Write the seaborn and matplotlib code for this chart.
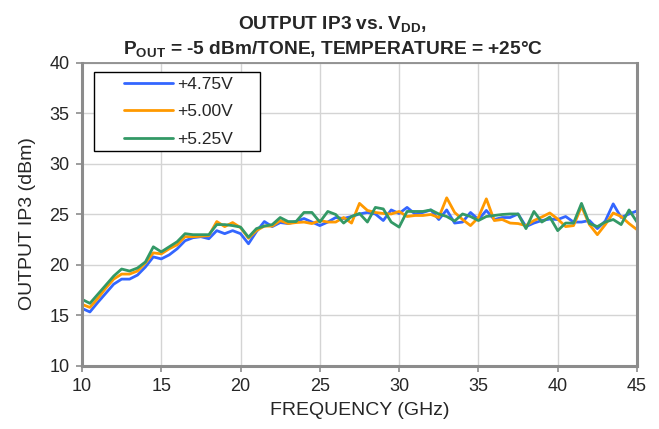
import pandas as pd
import matplotlib
matplotlib.use("Agg")
import matplotlib.pyplot as plt
from matplotlib.patches import Rectangle
import seaborn as sns

# frequency points (GHz)
freq = [10.0, 10.5, 11.0, 11.5, 12.0, 12.5, 13.0, 13.5, 14.0, 14.5,
        15.0, 15.5, 16.0, 16.5, 17.0, 17.5, 18.0, 18.5, 19.0, 19.5,
        20.0, 20.5, 21.0, 21.5, 22.0, 22.5, 23.0, 23.5, 24.0, 24.5,
        25.0, 25.5, 26.0, 26.5, 27.0, 27.5, 28.0, 28.5, 29.0, 29.5,
        30.0, 30.5, 31.0, 31.5, 32.0, 32.5, 33.0, 33.5, 34.0, 34.5,
        35.0, 35.5, 36.0, 36.5, 37.0, 37.5, 38.0, 38.5, 39.0, 39.5,
        40.0, 40.5, 41.0, 41.5, 42.0, 42.5, 43.0, 43.5, 44.0, 44.5,
        45.0]

ip3_475 = [15.7, 15.35, 16.3, 17.2, 18.1, 18.6, 18.6, 19.0, 19.8, 20.8,
           20.6, 21.0, 21.6, 22.4, 22.7, 22.8, 22.6, 23.4, 23.1, 23.4,
           23.1, 22.1, 23.3, 24.3, 23.8, 24.2, 24.1, 24.3, 24.6, 24.25,
           23.9, 24.25, 24.7, 24.6, 24.8, 25.05, 25.2, 25.05, 24.4, 25.45,
           25.1, 25.7, 25.05, 25.2, 25.45, 24.5, 25.45, 24.15, 24.25, 25.2,
           24.5, 25.4, 24.5, 24.7, 24.7, 25.05, 23.8, 24.15, 24.4, 24.55,
           24.5, 24.8, 24.25, 24.25, 24.4, 23.6, 24.35, 26.05, 24.7, 25.05,
           25.35]

ip3_500 = [16.1, 15.8, 16.7, 17.7, 18.6, 19.1, 19.1, 19.4, 20.2, 21.2,
           21.1, 21.6, 22.0, 22.8, 22.8, 22.85, 22.9, 24.3, 23.8, 24.2,
           23.7, 22.65, 23.4, 23.85, 23.85, 24.4, 24.1, 24.2, 24.25, 24.1,
           24.4, 24.25, 24.25, 24.7, 24.15, 26.1, 25.4, 25.2, 25.1, 25.05,
           25.3, 24.8, 24.9, 24.9, 25.0, 24.7, 26.65, 25.2, 24.5, 23.9,
           24.7, 26.55, 24.4, 24.5, 24.15, 24.1, 23.9, 24.4, 24.75, 25.15,
           24.55, 23.8, 23.9, 25.8, 24.0, 23.0, 24.0, 25.15, 24.8, 24.1,
           23.5]

ip3_525 = [16.6, 16.2, 17.1, 18.0, 18.9, 19.6, 19.4, 19.7, 20.3, 21.8,
           21.3, 21.8, 22.3, 23.1, 23.0, 23.0, 23.0, 24.0, 24.0, 23.9,
           23.75, 22.75, 23.6, 23.85, 24.0, 24.7, 24.3, 24.3, 25.2, 25.2,
           24.25, 25.3, 25.0, 24.15, 24.8, 25.1, 24.25, 25.7, 25.55, 24.25,
           23.75, 25.3, 25.3, 25.3, 25.45, 25.05, 24.8, 24.35, 25.05, 24.8,
           24.4, 24.8, 24.9, 25.0, 25.05, 25.05, 23.6, 25.3, 24.25, 24.75,
           23.4, 24.15, 24.15, 26.1, 24.1, 23.8, 24.25, 24.5, 24.0, 25.45,
           24.25]

labels = ["+4.75V", "+5.00V", "+5.25V"]
colors = ["#3366FF", "#FF9900", "#339966"]

frames = []
for lab, vals in zip(labels, [ip3_475, ip3_500, ip3_525]):
    frames.append(pd.DataFrame({"freq": freq, "ip3": vals, "vdd": lab}))
df = pd.concat(frames, ignore_index=True)

sns.set_style("white")
plt.rcParams["font.family"] = ["Liberation Sans", "DejaVu Sans"]
plt.rcParams["mathtext.fontset"] = "custom"
plt.rcParams["mathtext.rm"] = "Liberation Sans"
plt.rcParams["mathtext.bf"] = "Liberation Sans:bold"

fig = plt.figure(figsize=(6.59, 4.29), dpi=100)
ax = fig.add_axes([0.1244, 0.1469, 0.8422, 0.7063])

sns.lineplot(data=df, x="freq", y="ip3", hue="vdd", palette=colors,
             linewidth=2, ax=ax)

ax.set_xlim(10, 45)
ax.set_ylim(10, 40)
ax.set_xticks(range(10, 46, 5))
ax.set_yticks(range(10, 41, 5))
ax.grid(True, color="#d4d4d4", linewidth=1)
ax.set_axisbelow(True)
for s in ax.spines.values():
    s.set_color("#8c8c8c")
    s.set_linewidth(2.2)
ax.spines["top"].set_linewidth(1.3)
ax.tick_params(axis="both", labelsize=13, length=4, width=1.2, color="#8c8c8c",
               direction="out", left=True, bottom=True, pad=5)

ax.set_xlabel("FREQUENCY (GHz)", fontsize=14, labelpad=5)
ax.set_ylabel("OUTPUT IP3 (dBm)", fontsize=14)
ax.yaxis.set_label_coords(-0.082, 0.47)

fig.text(0.505, 0.930, r"OUTPUT IP3 vs. V$_{\mathbf{DD}}$,", ha="center",
         va="baseline", fontsize=13.8, fontweight="bold")
fig.text(0.505, 0.872, r"P$_{\mathbf{OUT}}$ = -5 dBm/TONE, TEMPERATURE = +25°C",
         ha="center", va="baseline", fontsize=13.8, fontweight="bold")

# legend box drawn separately so its padding matches the reference
ax.add_patch(Rectangle((0.0216, 0.7096), 0.2991, 0.2604, transform=ax.transAxes,
                       facecolor="white", edgecolor="black", linewidth=1,
                       zorder=5))
leg = ax.legend(loc="center left", bbox_to_anchor=(0.0757, 0.839), fontsize=12.5,
                frameon=False, handlelength=2.85, handletextpad=0.2,
                labelspacing=0.7, borderpad=0, borderaxespad=0)
leg.set_title(None)
leg.set_zorder(6)

fig.savefig("out.png", dpi=100)
